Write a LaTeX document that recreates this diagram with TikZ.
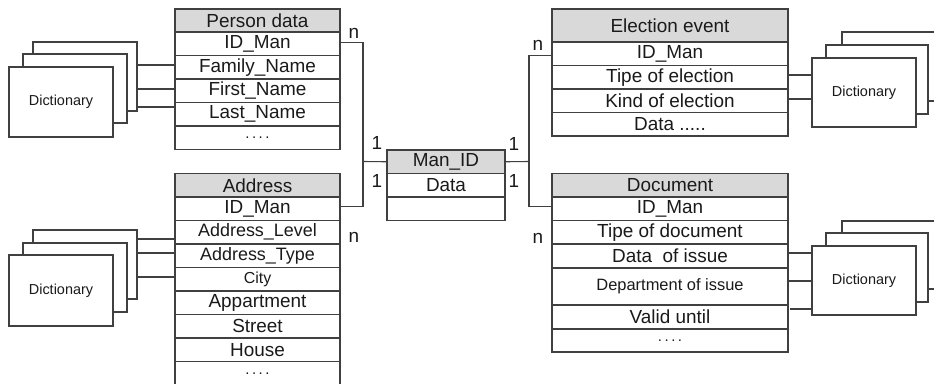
\documentclass[tikz,border=0pt]{standalone}
\usepackage{fontspec}
\setmainfont{Liberation Sans}
\usetikzlibrary{calc}
\definecolor{edge}{HTML}{404040}
\definecolor{headfill}{HTML}{D9D9D9}
\definecolor{ink}{HTML}{1A1A1A}
\newcommand{\rowdots}{\fontsize{15}{15}\selectfont .\kern2.5bp.\kern2.5bp.\kern2.5bp.}
\tikzset{
  cell/.style={draw=edge, line width=1.1bp, fill=white, inner sep=0pt, outer sep=0pt,
    anchor=north west, text=ink, font=\fontsize{19}{19}\selectfont},
  headcell/.style={cell, fill=headfill},
  dictbox/.style={draw=edge, line width=1.1bp, fill=white, inner sep=0pt, outer sep=0pt,
    anchor=north west, minimum width=104bp, minimum height=69bp, text=ink,
    font=\fontsize{14.5}{14.5}\selectfont},
  link/.style={draw=edge, line width=1.1bp},
  card/.style={text=ink, font=\fontsize{19}{19}\selectfont, inner sep=0pt}
}
\begin{document}
\begin{tikzpicture}[x=1bp,y=-1bp]
\useasboundingbox (0,0) rectangle (934,383);
\clip (0,0) rectangle (934,383);

% ---- Person data ----
\begin{scope}[every node/.append style={minimum width=165bp}]
\node[headcell, minimum height=23bp] (pd0) at (175,9) {Person data};
\node[cell, minimum height=23.5bp] (pd1) at (175,32) {ID\_Man};
\node[cell, minimum height=23.5bp] (pd2) at (175,55.5) {Family\_Name};
\node[cell, minimum height=23.5bp] (pd3) at (175,79) {First\_Name};
\node[cell, minimum height=23.5bp] (pd4) at (175,102.5) {Last\_Name};
\node[cell, minimum height=23.5bp] (pd5) at (175,126) {\rowdots};
\end{scope}

% ---- Address ----
\begin{scope}[every node/.append style={minimum width=165bp, minimum height=23.5bp}]
\node[headcell] (ad0) at (175,173.5) {Address};
\node[cell] (ad1) at (175,197) {ID\_Man};
\node[cell] (ad2) at (175,220.5) {\fontsize{18}{18}\selectfont Address\_Level};
\node[cell] (ad3) at (175,244) {\fontsize{18}{18}\selectfont Address\_Type};
\node[cell] (ad4) at (175,267.5) {\fontsize{16}{16}\selectfont City};
\node[cell] (ad5) at (175,291) {Appartment};
\node[cell] (ad6) at (175,314.5) {Street};
\node[cell] (ad7) at (175,338) {House};
\node[cell] (ad8) at (175,361.5) {\rowdots};
\end{scope}

% ---- Man_ID ----
\begin{scope}[every node/.append style={minimum width=118bp, minimum height=23.5bp}]
\node[headcell] (mi0) at (387,150) {Man\_ID};
\node[cell] (mi1) at (387,173.5) {Data};
\node[cell] (mi2) at (387,197) {};
\end{scope}

% ---- Election event ----
\begin{scope}[every node/.append style={minimum width=236bp}]
\node[headcell, minimum height=33bp] (ee0) at (552,9) {Election event};
\node[cell, minimum height=23.5bp] (ee1) at (552,42) {ID\_Man};
\node[cell, minimum height=23.5bp] (ee2) at (552,65.5) {Tipe of election};
\node[cell, minimum height=23.5bp] (ee3) at (552,89) {Kind of election};
\node[cell, minimum height=23.5bp] (ee4) at (552,112.5) {Data .....};
\end{scope}

% ---- Document ----
\begin{scope}[every node/.append style={minimum width=236bp}]
\node[headcell, minimum height=23.5bp] (dc0) at (552,173.5) {Document};
\node[cell, minimum height=23.5bp] (dc1) at (552,197) {ID\_Man};
\node[cell, minimum height=23.5bp] (dc2) at (552,220.5) {Tipe of document};
\node[cell, minimum height=24bp] (dc3) at (552,244) {Data\ \ of issue};
\node[cell, minimum height=37bp] (dc4) at (552,268) {\fontsize{16.5}{16.5}\selectfont Department of issue};
\node[cell, minimum height=24bp] (dc5) at (552,305) {Valid until};
\node[cell, minimum height=23bp] (dc6) at (552,329) {\rowdots};
\end{scope}

% ---- Dictionary stacks ----
\node[dictbox] (dA3) at (33,42) {};
\node[dictbox] (dA2) at (23,54) {};
\node[dictbox, minimum height=70bp] (dA1) at (9,67) {Dictionary};

\node[dictbox] (dB3) at (33,230) {};
\node[dictbox] (dB2) at (23,243) {};
\node[dictbox, minimum height=71bp] (dB1) at (9,255) {Dictionary};

\node[dictbox] (dC3) at (842,32) {};
\node[dictbox, minimum width=102bp] (dC2) at (826,45) {};
\node[dictbox] (dC1) at (812,58) {Dictionary};

\node[dictbox, minimum height=68bp] (dD3) at (842,221) {};
\node[dictbox, minimum width=102bp] (dD2) at (826,233) {};
\node[dictbox] (dD1) at (812,246) {Dictionary};

% ---- dictionary links ----
\draw[link] ($(pd2.north west)+(0,9.5)$) -- ($(pd2.north west -| dA3.east)+(0,9.5)$);
\draw[link] ($(pd3.north west)+(0,10)$) -- ($(pd3.north west -| dA3.east)+(0,10)$);
\draw[link] ($(pd4.north west)+(0,4.5)$) -- ($(pd4.north west -| dA3.east)+(0,4.5)$);

\draw[link] ($(ad2.north west)+(0,18.5)$) -- ($(ad2.north west -| dB3.east)+(0,18.5)$);
\draw[link] ($(ad3.north west)+(0,9)$) -- ($(ad3.north west -| dB3.east)+(0,9)$);
\draw[link] ($(ad4.north west)+(0,9.5)$) -- ($(ad4.north west -| dB3.east)+(0,9.5)$);

\draw[link] ($(ee2.north east)+(0,9.5)$) -- ($(ee2.north east -| dC1.west)+(0,9.5)$);
\draw[link] ($(ee3.north east)+(0,10)$) -- ($(ee3.north east -| dC1.west)+(0,10)$);

\draw[link] ($(dc3.north east)+(0,9)$) -- ($(dc3.north east -| dD1.west)+(0,9)$);
\draw[link] ($(dc4.north east)+(0,13)$) -- ($(dc4.north east -| dD1.west)+(0,13)$);
\draw[link] ($(dc5.north east)+(2,4)$) -- ($(dc5.north east -| dD1.west)+(0,4)$);

% ---- relationship links ----
\coordinate (jl) at (363,161.5);
\coordinate (jr) at (529,161.5);
\draw[link] ($(pd1.east)+(0,-1)$) -| (jl);
\draw[link] ($(ad1.east)+(0,-2)$) -| (jl);
\draw[link] (jl) -- (mi0.west);
\draw[link] (mi0.east) -- (jr);
\draw[link] (jr) |- ($(ee1.west)+(0,2)$);
\draw[link] (jr) |- ($(dc1.west)+(0,-2)$);

% ---- cardinalities ----
\node[card] (cn1) at (354,33) {n};
\node[card] (cn2) at (354,237) {n};
\node[card] (cn3) at (538,45) {n};
\node[card] (cn4) at (538,238) {n};
\node[card] (c11) at (377,143) {1};
\node[card] (c12) at (377,181) {1};
\node[card] (c13) at (514,144) {1};
\node[card] (c14) at (514,181) {1};
\end{tikzpicture}
\end{document}
